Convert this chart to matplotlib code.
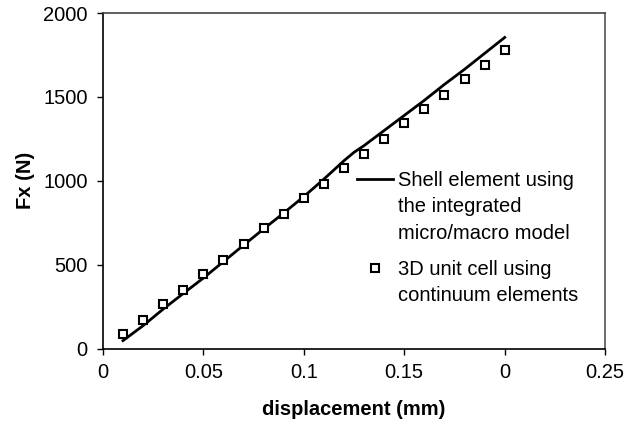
import matplotlib.pyplot as plt

plt.rcParams['font.family'] = ['Liberation Sans', 'DejaVu Sans']

# Shell element (line)
shell_x = [0.01, 0.02, 0.03, 0.04, 0.05, 0.06, 0.07, 0.08, 0.09, 0.10,
           0.11, 0.12, 0.125, 0.13, 0.14, 0.15, 0.16, 0.17, 0.18, 0.19, 0.20]
shell_y = [47, 136, 235, 328, 420, 518, 616, 713, 808, 906,
           1010, 1120, 1170, 1210, 1300, 1390, 1480, 1575, 1665, 1760, 1855]

# 3D unit cell (squares)
cell_x = [0.01, 0.02, 0.03, 0.04, 0.05, 0.06, 0.07, 0.08, 0.09, 0.10,
          0.11, 0.12, 0.13, 0.14, 0.15, 0.16, 0.17, 0.18, 0.19, 0.20]
cell_y = [87, 172, 266, 351, 445, 528, 624, 717, 805, 900,
          984, 1079, 1163, 1249, 1342, 1428, 1513, 1607, 1693, 1778]

xticks = [0, 0.05, 0.1, 0.15, 0.2, 0.25]
xtick_labels = ['0', '0.05', '0.1', '0.15', '0', '0.25']
yticks = [0, 500, 1000, 1500, 2000]

fs = 14.5

fig = plt.figure(figsize=(6.35, 4.24), dpi=100)
ax = fig.add_axes([0.162, 0.178, 0.791, 0.791])

ax.plot(shell_x, shell_y, color='black', linewidth=2,
        label='Shell element using\nthe integrated\nmicro/macro model')
ax.plot(cell_x, cell_y, linestyle='none', marker='s', markersize=6,
        markerfacecolor='white', markeredgecolor='black', markeredgewidth=1.5,
        label='3D unit cell using\ncontinuum elements')

ax.set_xlim(0, 0.25)
ax.set_ylim(0, 2000)
ax.set_xticks(xticks)
ax.set_xticklabels(xtick_labels)
ax.set_yticks(yticks)
ax.tick_params(labelsize=fs, direction='out', length=4.3, width=1)
ax.tick_params(axis='x', pad=6)
ax.tick_params(axis='y', pad=6.5)
for s in ax.spines.values():
    s.set_linewidth(1.2)
ax.spines['right'].set_color('#555555')
ax.spines['top'].set_color('#444444')

ax.set_xlabel('displacement (mm)', fontsize=fs, fontweight='bold', labelpad=13)
ax.set_ylabel('Fx (N)', fontsize=fs, fontweight='bold', labelpad=6)

leg = ax.legend(loc='upper left', bbox_to_anchor=(0.506, 0.53), frameon=False,
                fontsize=fs, handlelength=1.8, handleheight=1.0,
                handletextpad=0.25, labelspacing=0.85, borderpad=0,
                borderaxespad=0)
for t in leg.get_texts():
    t.set_linespacing(1.5)
# put the handle next to the first line of each label
for col in leg._legend_handle_box.get_children():
    for row in col.get_children():
        row.align = 'top'

plt.savefig('out.png', dpi=100)
